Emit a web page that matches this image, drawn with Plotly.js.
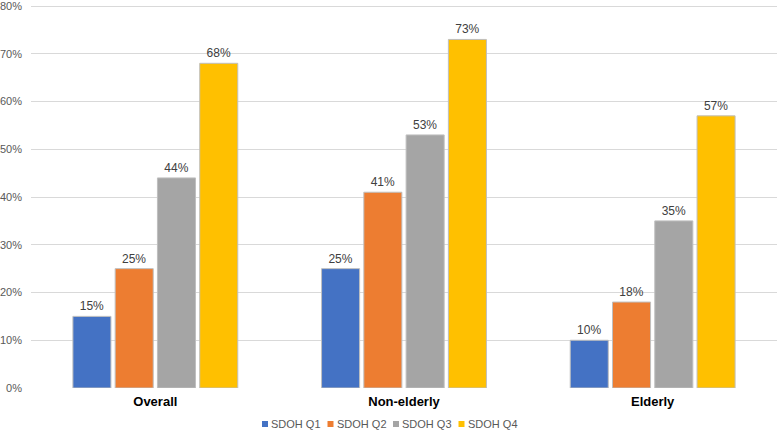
<!DOCTYPE html>
<html><head><meta charset="utf-8">
<script src="https://cdn.plot.ly/plotly-3.0.1.min.js"></script>
<style>html,body{margin:0;padding:0;background:#fff}#chart{width:777px;height:430px}</style>
</head><body><div id="chart"></div>
<script>
const categories = ["Overall", "Non-elderly", "Elderly"];
const seriesNames = ["SDOH Q1", "SDOH Q2", "SDOH Q3", "SDOH Q4"];
const q1 = [15, 25, 10];
const q2 = [25, 41, 18];
const q3 = [44, 53, 35];
const q4 = [68, 73, 57];
const yTicks = [0, 10, 20, 30, 40, 50, 60, 70, 80];
const colors = ["#4472C4", "#ED7D31", "#A5A5A5", "#FFC000"];

const FONT = 'Liberation Sans, Arial, sans-serif';
const values = [q1, q2, q3, q4];
const traces = values.map((v, i) => ({
  type: 'bar', name: seriesNames[i], x: categories, y: v,
  text: v.map(d => d + '%'), textposition: 'outside', cliponaxis: false,
  textfont: {family: FONT, size: 12, color: '#404040'},
  marker: {color: colors[i], line: {color: '#BFBFBF', width: 1}},
  hoverinfo: 'none', showlegend: false
}));

// custom legend (small squares + labels) below the axis
const plotL = 31, plotW = 746, plotT = 1, plotH = 387;
const px2x = p => (p - plotL) / plotW;
const px2y = p => (plotT + plotH - p) / plotH;
const legStart = 265, legStep = 65.5, legY = 424;
const shapes = [], annotations = [];
seriesNames.forEach((n, i) => {
  const sx = legStart + i * legStep;
  shapes.push({type: 'rect', xref: 'paper', yref: 'paper',
    x0: px2x(sx - 3), x1: px2x(sx + 3), y0: px2y(legY + 3), y1: px2y(legY - 3),
    fillcolor: colors[i], line: {width: 0}});
  annotations.push({xref: 'paper', yref: 'paper', x: px2x(sx + 4), y: px2y(legY),
    xanchor: 'left', yanchor: 'middle', showarrow: false, text: n,
    font: {family: FONT, size: 11, color: '#595959'}});
});

const layout = {
  width: 777, height: 430,
  margin: {l: plotL, r: 0, t: plotT, b: 430 - plotT - plotH, autoexpand: false},
  paper_bgcolor: '#fff', plot_bgcolor: '#fff',
  barmode: 'group', bargap: 0.32, bargroupgap: 0.1,
  font: {family: FONT, color: '#595959', size: 11},
  xaxis: {
    tickfont: {size: 13, color: '#000', family: FONT, weight: 'bold'},
    showgrid: false, zeroline: false, showline: false, ticks: '', ticklabelstandoff: 4,
    automargin: false
  },
  yaxis: {
    range: [0, 81.05], tickvals: yTicks, ticktext: yTicks.map(t => t + '%'),
    showgrid: true, gridcolor: '#D9D9D9', gridwidth: 1, zeroline: false,
    showline: false, ticks: '', ticklabelstandoff: 8, automargin: false,
    ticklabeloverflow: 'allow',
    tickfont: {size: 11, color: '#595959'}
  },
  showlegend: false,
  shapes: shapes, annotations: annotations
};
Plotly.newPlot('chart', traces, layout, {staticPlot: true, displayModeBar: false});
</script></body></html>
